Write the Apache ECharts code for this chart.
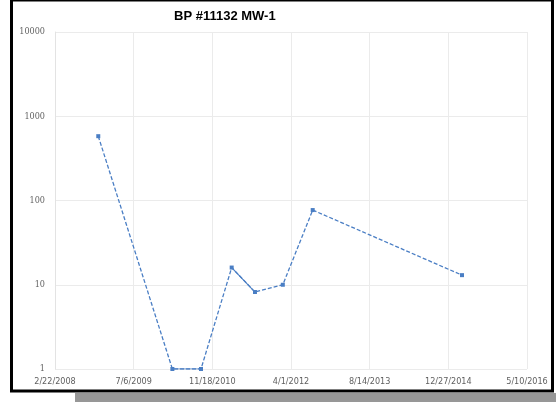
<!DOCTYPE html>
<html>
<head>
    <meta charset="utf-8">
    <title>BP #11132 MW-1</title>
    <script src="https://cdn.jsdelivr.net/npm/echarts@6.0.0/dist/echarts.min.js"></script>
    <style>
        body { margin: 0; background: #fff; }
        #chart { width: 556px; height: 402px; }
    </style>
</head>
<body>
    <div id="chart"></div>
    <script>
        // sample dates and concentrations
        var sampleDates = ['2008-11-23', '2010-03-09', '2010-09-07', '2011-03-21', '2011-08-16', '2012-02-09', '2012-08-17', '2015-03-24'];
        var sampleValues = [580, 1, 1, 16, 8.2, 10, 77, 13];
        // segments that look solid in the original (index pairs)
        var solidSegments = [[1, 2], [3, 4]];

        var DAY = 86400000;
        var axisMin = Date.UTC(2008, 1, 22);
        var axisMax = Date.UTC(2016, 4, 10);
        var axisStep = 500 * DAY;

        function toMs(s) {
            var p = s.split('-');
            return Date.UTC(+p[0], +p[1] - 1, +p[2]);
        }

        var points = sampleDates.map(function (d, i) { return [toMs(d), sampleValues[i]]; });

        var solidData = [];
        solidSegments.forEach(function (seg, k) {
            if (k > 0) solidData.push([points[seg[0]][0] - DAY, '-']);
            solidData.push(points[seg[0]], points[seg[1]]);
        });

        var lineColor = '#4a7ec4';
        var myChart = echarts.init(document.getElementById('chart'));

        var option = {
            backgroundColor: '#fff',
            animation: false,
            title: {
                text: 'BP #11132 MW-1',
                left: 169,
                top: 5,
                textStyle: { fontFamily: 'Liberation Sans', fontSize: 13, fontWeight: 'bold', color: '#000' }
            },
            grid: { left: 55, top: 32, right: 29, bottom: 33 },
            xAxis: {
                type: 'value',
                min: axisMin,
                max: axisMax,
                interval: axisStep,
                axisLine: { show: false },
                axisTick: { show: false },
                splitLine: { show: true, lineStyle: { color: '#ebebeb', width: 1 } },
                axisLabel: {
                    color: '#5f5f5f',
                    fontSize: 9,
                    fontFamily: 'DejaVu Sans Condensed',
                    margin: 8,
                    formatter: function (v) {
                        var d = new Date(v);
                        return (d.getUTCMonth() + 1) + '/' + d.getUTCDate() + '/' + d.getUTCFullYear();
                    }
                }
            },
            yAxis: {
                type: 'log',
                logBase: 10,
                min: 1,
                max: 10000,
                axisLine: { show: true, lineStyle: { color: '#e3e3e3' } },
                axisTick: { show: false },
                splitLine: { show: true, lineStyle: { color: '#ebebeb', width: 1 } },
                axisLabel: {
                    color: '#5f5f5f',
                    fontSize: 9,
                    fontFamily: 'DejaVu Serif Condensed',
                    margin: 10,
                    verticalAlign: 'middle',
                    lineHeight: 12,
                    padding: [0, 0, 3, 0],
                    formatter: function (v) { return String(Math.round(v)); }
                }
            },
            series: [
                {
                    type: 'line',
                    data: points,
                    symbol: 'rect',
                    symbolSize: 4,
                    lineStyle: { color: lineColor, width: 1.3, type: [4, 2] },
                    itemStyle: { color: lineColor }
                },
                {
                    type: 'line',
                    data: solidData,
                    symbol: 'none',
                    connectNulls: false,
                    lineStyle: { color: lineColor, width: 1.1 },
                    z: 3
                }
            ],
            graphic: [
                {
                    type: 'rect',
                    shape: { x: 75, y: 393, width: 481, height: 9 },
                    style: { fill: '#979797' },
                    z: 0
                },
                {
                    type: 'rect',
                    shape: { x: 11.5, y: 0, width: 541, height: 391 },
                    style: { fill: 'none', stroke: '#000', lineWidth: 3 },
                    z: 10
                }
            ]
        };

        myChart.setOption(option);
    </script>
</body>
</html>
